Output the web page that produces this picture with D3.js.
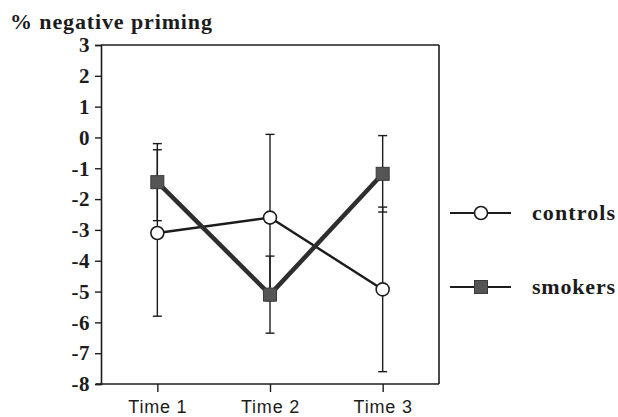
<!DOCTYPE html>
<html>
<head>
<meta charset="utf-8">
<script src="https://cdn.jsdelivr.net/npm/d3@7"></script>
<style>
  html, body { margin: 0; padding: 0; background: #fff; }
  svg { display: block; }
</style>
</head>
<body>
<svg id="chart" width="618" height="417"></svg>
<script>
const categories = ["Time 1", "Time 2", "Time 3"];
const controlsMean = [-3.1, -2.6, -4.93];
const controlsErr = [2.7, 2.7, 2.67];
const smokersMean = [-1.45, -5.1, -1.18];
const smokersErr = [1.25, 1.25, 1.24];
const yTicks = [3, 2, 1, 0, -1, -2, -3, -4, -5, -6, -7, -8];
const yTitle = "% negative priming";
const seriesNames = ["controls", "smokers"];

const svg = d3.select("#chart");
const ink = "#1c1c1c";
const L = 101, R = 439, T = 45, B = 384;

const x = d3.scalePoint().domain(categories).range([L, R]).padding(0.5);
const y = d3.scaleLinear().domain([-8, 3]).range([B, T]);

// Box top and right
svg.append("line").attr("x1", L).attr("x2", R).attr("y1", T).attr("y2", T)
  .attr("stroke", ink).attr("stroke-width", 1.6);
svg.append("line").attr("x1", R).attr("x2", R).attr("y1", T).attr("y2", B)
  .attr("stroke", ink).attr("stroke-width", 1.6);

// Left axis
const yAxis = svg.append("g").attr("transform", `translate(${L},0)`)
  .call(d3.axisLeft(y).tickValues(yTicks).tickSize(6).tickPadding(5).tickFormat(d3.format("d")));
yAxis.select(".domain").attr("stroke", ink).attr("stroke-width", 1.6);
yAxis.selectAll(".tick line").attr("stroke", ink).attr("stroke-width", 1.4);
yAxis.selectAll(".tick text")
  .attr("fill", ink)
  .style("font-family", "'Liberation Serif', 'Times New Roman', serif")
  .style("font-weight", "bold")
  .style("font-size", "21px")
  .style("letter-spacing", "0.5px")
  .text(d => d < 0 ? "-" + Math.abs(d) : String(d));

// Bottom axis
const xAxis = svg.append("g").attr("transform", `translate(0,${B})`)
  .call(d3.axisBottom(x).tickSize(8).tickPadding(8).tickSizeOuter(0));
xAxis.select(".domain").attr("stroke", ink).attr("stroke-width", 1.6).attr("d", `M${L - 5},0H${R}`);
xAxis.selectAll(".tick line").attr("stroke", ink).attr("stroke-width", 1.4);
xAxis.selectAll(".tick text")
  .attr("fill", ink)
  .style("font-family", "'Liberation Sans', Arial, sans-serif")
  .style("font-size", "18px")
  .style("letter-spacing", "0.8px");

// Y title
svg.append("text").attr("x", 10).attr("y", 29)
  .attr("textLength", 202).attr("lengthAdjust", "spacing")
  .style("font-family", "'Liberation Serif', 'Times New Roman', serif")
  .style("font-weight", "bold").style("font-size", "22px")
  .attr("fill", ink).text(yTitle);

const series = [
  { name: seriesNames[0], mean: controlsMean, err: controlsErr, width: 2.4, color: "#1c1c1c" },
  { name: seriesNames[1], mean: smokersMean, err: smokersErr, width: 4.5, color: "#2e2e2e" }
];

// Error bars
const capW = 4.5;
series.forEach(s => {
  const g = svg.append("g");
  categories.forEach((c, i) => {
    const cx = x(c);
    const hi = y(s.mean[i] + s.err[i]);
    const lo = y(s.mean[i] - s.err[i]);
    g.append("line").attr("x1", cx).attr("x2", cx).attr("y1", hi).attr("y2", lo)
      .attr("stroke", ink).attr("stroke-width", 1.4);
    [hi, lo].forEach(yy => g.append("line").attr("x1", cx - capW).attr("x2", cx + capW)
      .attr("y1", yy).attr("y2", yy).attr("stroke", ink).attr("stroke-width", 1.4));
  });
});

// Lines
const line = d3.line().x((d, i) => x(categories[i])).y(d => y(d));
series.forEach(s => {
  svg.append("path").datum(s.mean).attr("d", line)
    .attr("fill", "none").attr("stroke", s.color).attr("stroke-width", s.width)
    .attr("stroke-linejoin", "round");
});

// Markers
function circleMarker(g, cx, cy) {
  g.append("circle").attr("cx", cx).attr("cy", cy).attr("r", 6.5)
    .attr("fill", "#fff").attr("stroke", ink).attr("stroke-width", 1.6);
}
function squareMarker(g, cx, cy) {
  g.append("rect").attr("x", cx - 6.5).attr("y", cy - 6.5).attr("width", 13).attr("height", 13)
    .attr("fill", "#555").attr("stroke", "#3a3a3a").attr("stroke-width", 1);
}
const mg = svg.append("g");
categories.forEach((c, i) => circleMarker(mg, x(c), y(controlsMean[i])));
categories.forEach((c, i) => squareMarker(mg, x(c), y(smokersMean[i])));

// Legend
const legY = [213, 287];
const lg = svg.append("g");
series.forEach((s, i) => {
  lg.append("line").attr("x1", 450).attr("x2", 511).attr("y1", legY[i]).attr("y2", legY[i])
    .attr("stroke", ink).attr("stroke-width", 2);
  if (i === 0) circleMarker(lg, 481, legY[i]); else squareMarker(lg, 481, legY[i]);
  lg.append("text").attr("x", 532).attr("y", legY[i] + 7)
    .attr("textLength", 83).attr("lengthAdjust", "spacing")
    .style("font-family", "'Liberation Serif', 'Times New Roman', serif")
    .style("font-weight", "bold").style("font-size", "22px")
    .attr("fill", ink).text(s.name);
});
</script>
</body>
</html>
